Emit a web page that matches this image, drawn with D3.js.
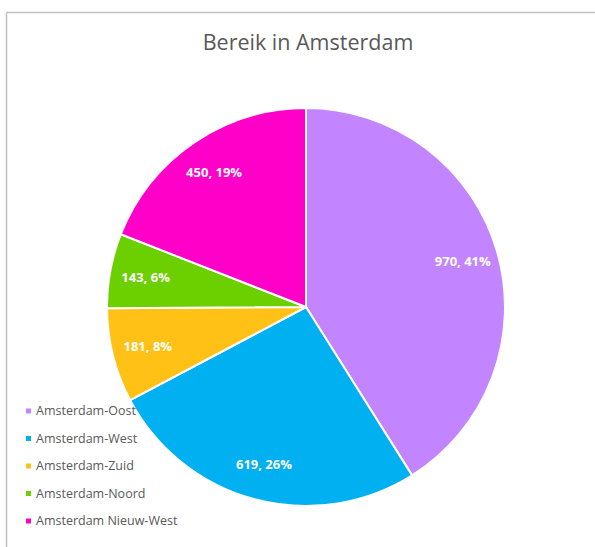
<!DOCTYPE html>
<html>
<head>
<meta charset="utf-8">
<script src="https://cdn.jsdelivr.net/npm/d3@7"></script>
<style>
  body { margin: 0; background: #fff; }
  svg { display: block; }
</style>
</head>
<body>
<svg id="chart"></svg>
<script>
// Chart data
const districts = ["Amsterdam-Oost", "Amsterdam-West", "Amsterdam-Zuid", "Amsterdam-Noord", "Amsterdam Nieuw-West"];
const reach = [970, 619, 181, 143, 450];
const colors = ["#C285FF", "#00B0F0", "#FFC116", "#6CCF00", "#FF00C8"];

const width = 595, height = 547;
const cx = 306, cy = 307, radius = 199;

const svg = d3.select("#chart")
    .attr("width", width)
    .attr("height", height);

// Frame (top and left edges visible)
svg.append("line")
    .attr("x1", 6.5).attr("y1", 12.5).attr("x2", width).attr("y2", 12.5)
    .attr("stroke", "#bfbfbf").attr("stroke-width", 1.5);
svg.append("line")
    .attr("x1", 6.5).attr("y1", 12.5).attr("x2", 6.5).attr("y2", height)
    .attr("stroke", "#bfbfbf").attr("stroke-width", 1.5);

// Title
svg.append("text")
    .attr("x", 308)
    .attr("y", 50)
    .attr("text-anchor", "middle")
    .style("font-family", "'Open Sans', sans-serif")
    .style("font-size", "21.5px")
    .style("fill", "#595959")
    .text("Bereik in Amsterdam");

const data = districts.map((d, i) => ({name: d, value: reach[i], color: colors[i]}));
const total = d3.sum(reach);

const pie = d3.pie()
    .sort(null)
    .value(d => d.value);

const arc = d3.arc()
    .innerRadius(0)
    .outerRadius(radius);

const labelArc = d3.arc()
    .innerRadius(radius * 0.82)
    .outerRadius(radius * 0.82);

const chart = svg.append("g")
    .attr("transform", `translate(${cx},${cy})`);

const arcs = pie(data);

chart.selectAll("path")
    .data(arcs)
    .join("path")
    .attr("d", arc)
    .attr("fill", d => d.data.color)
    .attr("stroke", "#fff")
    .attr("stroke-width", 2);

chart.selectAll("text.label")
    .data(arcs)
    .join("text")
    .attr("class", "label")
    .attr("transform", d => `translate(${labelArc.centroid(d)})`)
    .attr("text-anchor", "middle")
    .attr("dy", "0.35em")
    .style("font-family", "'Open Sans', sans-serif")
    .style("font-size", "13px")
    .style("font-weight", "bold")
    .style("fill", "#fff")
    .text(d => `${d.data.value}, ${Math.round(d.data.value / total * 100)}%`);

// Legend
const legend = svg.append("g")
    .attr("class", "legend")
    .attr("transform", "translate(26,411)");

const rows = legend.selectAll("g")
    .data(data)
    .join("g")
    .attr("transform", (d, i) => `translate(0,${i * 27.5})`);

rows.append("rect")
    .attr("x", 0)
    .attr("y", -2.5)
    .attr("width", 5)
    .attr("height", 5)
    .attr("fill", d => d.color);

rows.append("text")
    .attr("x", 10)
    .attr("dy", "0.35em")
    .style("font-family", "'Open Sans', sans-serif")
    .style("font-size", "12.5px")
    .style("fill", "#595959")
    .text(d => d.name);
</script>
</body>
</html>
